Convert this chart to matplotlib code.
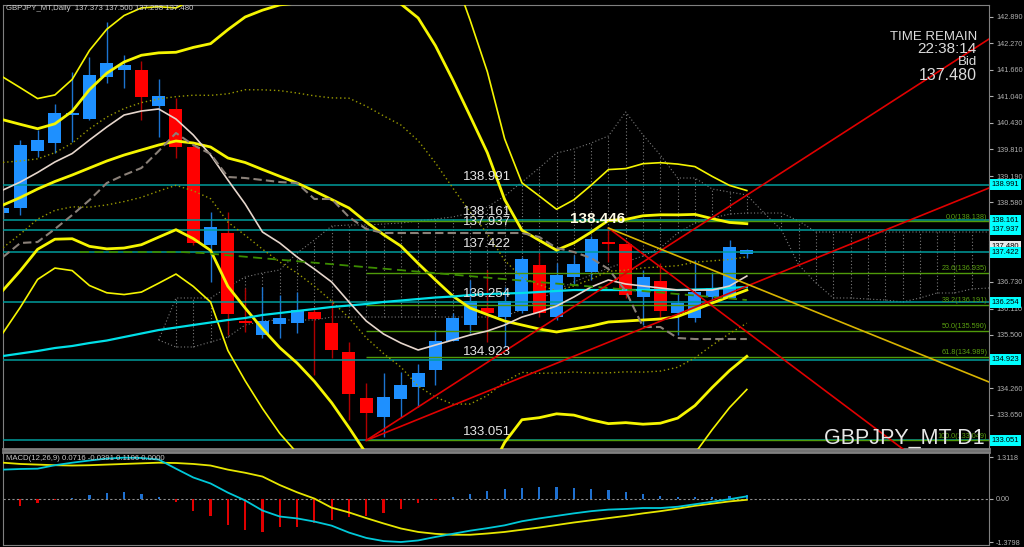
import numpy as np
import matplotlib.pyplot as plt

# ---------------- data ----------------
opens = [138.331, 138.448, 139.771, 139.957, 140.607, 140.514, 141.490, 141.652, 141.652, 140.816,
         140.747, 139.864, 137.588, 137.867, 135.823, 135.498, 135.754, 135.777, 136.032, 135.777,
         135.104, 134.035, 133.594, 134.012, 134.291, 134.685, 135.359, 135.731, 136.125, 135.916,
         136.056, 137.124, 135.916, 136.845, 136.961, 137.658, 137.612, 136.381, 136.752, 136.009,
         135.893, 136.381, 136.358, 137.373]
highs = [138.633, 140.027, 140.259, 140.863, 141.606, 141.954, 142.767, 142.001, 141.861, 141.443,
         141.002, 139.911, 138.355, 138.355, 136.590, 136.613, 136.427, 136.497, 136.149, 136.311,
         135.336, 134.384, 134.616, 134.639, 134.825, 135.614, 136.009, 136.776, 137.008, 136.613,
         137.310, 137.403, 137.170, 137.356, 137.797, 137.983, 137.635, 137.008, 137.170, 136.474,
         137.240, 136.961, 137.704, 137.500]
lows = [138.215, 138.285, 139.632, 139.725, 139.980, 140.491, 141.350, 141.234, 140.491, 140.096,
        139.609, 137.588, 136.729, 135.498, 135.568, 135.429, 135.429, 135.545, 134.569, 134.964,
        133.524, 133.051, 133.130, 133.594, 133.826, 134.337, 135.359, 135.545, 135.336, 135.220,
        136.009, 135.916, 135.847, 136.659, 136.776, 137.194, 136.358, 135.731, 135.916, 135.498,
        135.800, 136.311, 136.358, 137.298]
closes = [138.448, 139.911, 140.027, 140.654, 140.654, 141.536, 141.815, 141.768, 141.025, 141.049,
          139.864, 137.635, 138.006, 135.986, 135.777, 135.823, 135.893, 136.079, 135.870, 135.150,
          134.128, 133.687, 134.058, 134.337, 134.616, 135.359, 135.893, 136.288, 136.009, 136.288,
          137.263, 136.009, 136.892, 137.147, 137.728, 137.612, 136.427, 136.845, 136.056, 136.241,
          136.497, 136.590, 137.542, 137.480]

# Bollinger middle line and one sigma width
bb_mid = [138.517, 138.691, 138.889, 139.063, 139.214, 139.377, 139.539, 139.678, 139.795, 139.911,
          140.004, 139.957, 139.864, 139.609, 139.504, 139.342, 139.184, 139.028, 138.842, 138.645,
          138.448, 138.122, 137.828, 137.565, 137.161, 136.776, 136.404, 136.125, 135.972, 135.823,
          135.731, 135.638, 135.568, 135.638, 135.707, 135.800, 135.823, 135.847, 135.870, 135.928,
          136.079, 136.241, 136.392, 136.543]
bb_sig = [0.99, 0.85, 0.70, 0.67, 0.74, 0.91, 1.02, 1.08, 1.10, 1.07,
          1.03, 1.11, 1.20, 1.49, 1.69, 1.85, 1.99, 2.09, 2.21, 2.36,
          2.55, 2.69, 2.76, 2.81, 2.85, 2.72, 2.51, 2.23, 1.88, 1.41,
          1.10, 1.03, 0.95, 1.00, 1.09, 1.18, 1.18, 1.21, 1.21, 1.18,
          1.11, 0.98, 0.86, 0.77]

ma_fast = [138.866, 139.051, 139.272, 139.516, 139.713, 140.027, 140.329, 140.607, 140.700, 140.747,
           140.514, 140.143, 139.678, 139.098, 138.541, 137.890, 137.635, 137.310, 137.031, 136.729,
           136.265, 135.823, 135.521, 135.312, 135.150, 135.266, 135.382, 135.498, 135.591, 135.731,
           135.916, 136.032, 136.172, 136.381, 136.613, 136.776, 136.683, 136.636, 136.590, 136.543,
           136.543, 136.543, 136.636, 136.868]
ma_slow = [135.011, 135.069, 135.127, 135.196, 135.243, 135.312, 135.370, 135.452, 135.533, 135.614,
           135.672, 135.731, 135.789, 135.847, 135.893, 135.963, 136.009, 136.056, 136.102, 136.149,
           136.183, 136.218, 136.265, 136.299, 136.334, 136.369, 136.392, 136.427, 136.450, 136.462,
           136.474, 136.497, 136.520, 136.543, 136.543, 136.543, 136.543, 136.543, 136.543, 136.543,
           136.555, 136.566, 136.590, 136.613]
kijun = [137.310, 137.635, 137.658, 137.960, 138.285, 138.633, 139.028, 139.214, 139.377, 139.771,
         140.189, 139.911, 139.702, 139.168, 139.144, 139.098, 139.051, 139.028, 138.657, 138.657,
         138.239, 137.960, 137.867, 137.867, 137.867, 137.867, 137.867, 137.867, 137.867, 137.867,
         137.867, 137.774, 137.519, 137.426, 137.286, 137.031, 136.520, 135.684, 135.684, 135.429,
         135.405, 135.405, 135.405, 135.405]

# ichimoku cloud, bars 9..57
cloud_start = 9
span_a = [135.382, 136.358, 136.358, 136.358, 136.613, 136.845, 136.938, 137.008, 137.403, 137.704,
          138.030, 138.053, 138.053, 138.076, 138.099, 138.146, 138.192, 138.239, 138.331, 138.471,
          138.726, 139.051, 139.377, 139.725, 139.818, 139.957, 140.120, 140.677, 140.143, 139.678,
          139.144, 139.144, 138.889, 138.819, 138.750, 138.331, 137.937, 137.124, 136.706, 136.358,
          136.358, 136.334, 136.311, 136.265, 136.358, 136.474, 136.474, 136.567, 136.590]
span_b = [135.382, 135.220, 135.220, 135.336, 135.452, 135.731, 135.823, 135.847, 135.847, 135.847,
          135.916, 135.916, 135.916, 135.916, 135.916, 135.916, 135.916, 135.916, 135.916, 135.916,
          135.940, 136.079, 136.311, 136.543, 136.729, 136.892, 137.054, 137.194, 137.333, 137.519,
          137.867, 138.099, 138.215, 138.308, 138.331, 138.331, 138.331, 138.146, 137.890, 137.890,
          137.890, 137.890, 137.890, 137.890, 137.890, 137.890, 137.890, 137.890, 137.890]

green_x = [4.45, 10.3, 11.5, 43]
green_y = [137.426, 137.426, 137.403, 136.311]

levels = [138.991, 138.161, 137.937, 137.422, 136.254, 134.923, 133.051]
fib_pct = ["0.0", "23.6", "38.2", "50.0", "61.8", "100.0"]
fib_val = [138.138, 136.935, 136.191, 135.590, 134.989, 133.049]
price_ticks = [142.890, 142.270, 141.660, 141.040, 140.430, 139.810, 139.190, 138.580,
               137.960, 137.350, 136.730, 136.110, 135.500, 134.880, 134.260, 133.650, 133.030]
hidden_ticks = [137.960, 137.350, 134.880, 133.030]   # covered by the level boxes

# trend lines: (x0, y0, x1, y1)
red_lines = [(21, 133.051, 57, 142.372), (21, 133.051, 57, 138.912), (35, 137.983, 57, 131.35)]
gold_line = (35, 137.983, 57, 134.407)

macd_line = [0.92, 0.94, 0.95, 1.06, 1.14, 1.21, 1.27, 1.30, 1.29, 1.24,
             0.95, 0.67, 0.48, 0.19, -0.06, -0.38, -0.57, -0.63, -0.73, -0.86,
             -1.08, -1.25, -1.35, -1.38, -1.33, -1.22, -1.12, -1.02, -0.94, -0.85,
             -0.72, -0.63, -0.55, -0.47, -0.40, -0.35, -0.33, -0.30, -0.30, -0.26,
             -0.18, -0.10, -0.02, 0.0716]
macd_sig = [1.14, 1.10, 1.08, 1.06, 1.05, 1.06, 1.08, 1.10, 1.12, 1.14,
            1.13, 1.10, 1.05, 0.92, 0.82, 0.70, 0.43, 0.20, 0.00, -0.29,
            -0.44, -0.62, -0.79, -0.95, -1.06, -1.12, -1.15, -1.15, -1.11, -1.06,
            -0.99, -0.92, -0.84, -0.76, -0.69, -0.62, -0.55, -0.47, -0.40, -0.32,
            -0.23, -0.16, -0.09, -0.0391]
macd_hist = [-0.28, -0.22, -0.15, -0.04, 0.01, 0.12, 0.18, 0.22, 0.15, 0.05,
             -0.12, -0.40, -0.56, -0.83, -0.99, -1.05, -0.89, -0.89, -0.77, -0.69,
             -0.59, -0.55, -0.45, -0.32, -0.14, -0.05, 0.06, 0.15, 0.25, 0.30,
             0.34, 0.36, 0.36, 0.35, 0.31, 0.26, 0.20, 0.14, 0.08, 0.05,
             0.04, 0.05, 0.07, 0.1106]

# ---------------- figure ----------------
plt.rcParams['font.family'] = ['Liberation Sans', 'DejaVu Sans']
fig = plt.figure(figsize=(10.24, 5.47), dpi=100, facecolor='black')
ax = fig.add_axes([3 / 1024, 1 - 449 / 547, 986 / 1024, 444 / 547], facecolor='black')
ax2 = fig.add_axes([3 / 1024, 1 - 545 / 547, 986 / 1024, 93 / 547], facecolor='black')

idx = np.arange(len(opens))
o = np.array(opens); h = np.array(highs); l = np.array(lows); c = np.array(closes)
up = c >= o

# cloud
cx = np.arange(cloud_start, cloud_start + len(span_a))
ax.plot(cx, span_a, color='#7a7a7a', lw=0.8, ls=(0, (1, 2)), zorder=1)
ax.plot(cx, span_b, color='#7a7a7a', lw=0.8, ls=(0, (1, 2)), zorder=1)
ax.vlines(cx, np.minimum(span_a, span_b), np.maximum(span_a, span_b),
          colors='#7a7a7a', lw=0.8, linestyles=(0, (1, 2)), zorder=1)

# candles
ax.vlines(idx[up], l[up], h[up], color='#1c74d0', lw=1, zorder=2)
ax.vlines(idx[~up], l[~up], h[~up], color='#b00000', lw=1, zorder=2)
body = np.maximum(np.abs(c - o), 0.04)
ax.bar(idx, body, bottom=np.minimum(o, c), width=0.75,
       color=np.where(up, '#1e90ff', '#ff0000'), zorder=2.2)

# horizontal levels
for v in levels:
    ax.axhline(v, color='#009c9c', lw=1.1, zorder=3)
for v in fib_val:
    ax.hlines(v, 21, 57, color='#4f9a0a', lw=1, zorder=3)

# bollinger bands
mid = np.array(bb_mid); sig = np.array(bb_sig)
ax.plot(idx, mid, color='#f5f500', lw=2, zorder=4)
for k in (1, -1):
    ax.plot(idx, mid + 2 * k * sig, color='#f5f500', lw=2, zorder=4)
    ax.plot(idx, mid + 3 * k * sig, color='#f5f500', lw=1.2, zorder=4)
    ax.plot(idx, mid + k * sig, color='#9a9a00', lw=1, ls=(0, (1, 2)), zorder=4)

# moving averages
ax.plot(idx, ma_slow, color='#00e0e8', lw=1.6, zorder=4)
ax.plot(idx, ma_fast, color='#e6d6cc', lw=1.2, zorder=4)
ax.plot(idx, kijun, color='#8a8078', lw=1.5, ls=(0, (4, 2)), zorder=4)
ax.plot(green_x, green_y, color='#3c8c00', lw=1.3, ls=(0, (5, 3)), zorder=4)

# trend lines
for x0, y0, x1, y1 in red_lines:
    ax.plot([x0, x1], [y0, y1], color='#e00000', lw=1.2, zorder=5)
ax.plot([gold_line[0], gold_line[2]], [gold_line[1], gold_line[3]], color='#d8b400', lw=1.2, zorder=5)

ax.set_xlim(0, 57)
ax.set_ylim(132.851, 143.162)
ax.set_xticks([])

# level labels inside chart
for v in levels:
    ax.annotate(f"{v:.3f}", xy=(26.6, v), xytext=(0, 1.5), textcoords='offset points',
                ha='left', va='bottom', color='#e6e6e6', fontsize=9.5, zorder=6)
ax.text(32.8, 138.02, "138.446", color='#fffbe6', fontsize=11, fontweight='bold',
        ha='left', va='bottom', zorder=6)
for p, v in zip(fib_pct, fib_val):
    ax.annotate(f"{p}({v:.3f})", xy=(56.9, v), xytext=(0, 0.5), textcoords='offset points',
                ha='right', va='bottom', color='#5aa010', fontsize=5.2, zorder=6)

# right axis
ax.yaxis.tick_right()
ax.set_yticks(price_ticks)
ax.set_yticklabels(["" if t in hidden_ticks else f"{t:.3f}" for t in price_ticks])
ax.tick_params(axis='y', colors='#b0b0b0', labelsize=5.2, length=3, pad=2)
for sp in ax.spines.values():
    sp.set_color('#808080')
ax.spines['bottom'].set_linewidth(2)

ax.annotate("137.480", xy=(1.0, 137.48), xycoords=('axes fraction', 'data'), xytext=(2, 2.5),
            textcoords='offset points', ha='left', va='center', fontsize=5.5, color='black',
            bbox=dict(boxstyle='square,pad=0.25', fc='#e8e8e8', ec='none'),
            annotation_clip=False, zorder=9)
for v in levels:
    ax.annotate(f"{v:.3f}", xy=(1.0, v), xycoords=('axes fraction', 'data'), xytext=(2, 0),
                textcoords='offset points', ha='left', va='center', fontsize=5.5, color='black',
                bbox=dict(boxstyle='square,pad=0.25', fc='#00ffff', ec='none'),
                annotation_clip=False, zorder=10)

# MACD panel
colors = ['#1e70d0' if v >= 0 else '#e00000' for v in macd_hist]
ax2.bar(idx, macd_hist, width=0.13, color=colors, zorder=2)
ax2.axhline(0, color='#909090', lw=0.8, ls=(0, (2, 2)), zorder=1)
ax2.plot(idx, macd_sig, color='#e6e600', lw=1.3, zorder=3)
ax2.plot(idx, macd_line, color='#00c8d8', lw=1.3, zorder=3)
ax2.set_xlim(0, 57)
ax2.set_ylim(-1.475, 1.48)
ax2.set_xticks([])
ax2.yaxis.tick_right()
ax2.set_yticks([1.3118, 0.0, -1.3798])
ax2.set_yticklabels(["1.3118", "0.00", "-1.3798"])
ax2.tick_params(axis='y', colors='#b0b0b0', labelsize=5.2, length=3, pad=2)
for sp in ax2.spines.values():
    sp.set_color('#808080')
ax2.spines['top'].set_linewidth(2)
ax2.text(0.003, 0.93, "MACD(12,26,9) 0.0716 -0.0391 0.1106 0.0000", transform=ax2.transAxes,
         color='#c8c8c8', fontsize=5.6, ha='left', va='center')

# header and info texts
fig.text(6 / 1024, 1 - 8 / 547, "GBPJPY_MT,Daily  137.373 137.500 137.298 137.480",
         color='#d0d0d0', fontsize=5.6, ha='left', va='center')
fig.text(977 / 1024, 1 - 37 / 547, "TIME REMAIN", color='#dcdcdc', fontsize=9.5, ha='right', va='center')
fig.text(977 / 1024, 1 - 49 / 547, "22:38:14", color='#dcdcdc', fontsize=11, ha='right', va='center')
fig.text(977 / 1024, 1 - 62 / 547, "Bid", color='#dcdcdc', fontsize=9.5, ha='right', va='center')
fig.text(977 / 1024, 1 - 75 / 547, "137.480", color='#dcdcdc', fontsize=11.5, ha='right', va='center')
fig.text(985 / 1024, 1 - 438 / 547, "GBPJPY_MT D1", color='#e6e6e6', fontsize=15.5, ha='right', va='center')

fig.savefig("out.png", dpi=100, facecolor='black')
